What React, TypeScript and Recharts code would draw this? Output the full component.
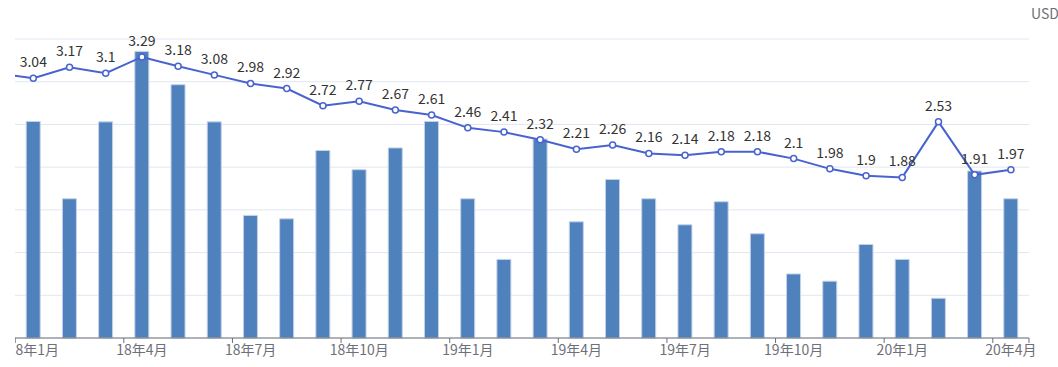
import { Bar, CartesianGrid, ComposedChart, LabelList, Line, XAxis, YAxis } from "recharts";

// 17年12月 sits just left of the visible window (only its line segment shows)
const months = [
  "17年12月",
  "18年1月", "18年2月", "18年3月", "18年4月", "18年5月", "18年6月",
  "18年7月", "18年8月", "18年9月", "18年10月", "18年11月", "18年12月",
  "19年1月", "19年2月", "19年3月", "19年4月", "19年5月", "19年6月",
  "19年7月", "19年8月", "19年9月", "19年10月", "19年11月", "19年12月",
  "20年1月", "20年2月", "20年3月", "20年4月",
];

const volume = [
  null,
  507, 326, 506, 671, 593, 506,
  287, 279, 439, 394, 445, 507,
  326, 184, 466, 272, 371, 326,
  265, 319, 244, 150, 133, 219,
  184, 93, 391, 326,
];

const price = [
  3.1,
  3.04, 3.17, 3.1, 3.29, 3.18, 3.08,
  2.98, 2.92, 2.72, 2.77, 2.67, 2.61,
  2.46, 2.41, 2.32, 2.21, 2.26, 2.16,
  2.14, 2.18, 2.18, 2.1, 1.98, 1.9,
  1.88, 2.53, 1.91, 1.97,
];

const volTicks = [0, 100, 200, 300, 400, 500, 600, 700];

const data = months.map((m, i) => ({ month: m, volume: volume[i], price: price[i] }));

const FONT = "'Noto Sans CJK SC', 'Noto Sans', sans-serif";
const PLOT_W = 1050;
const RIGHT_PAD = 30;
const BW = PLOT_W / months.length;

function MonthTick(props: any) {
  const { x, y, index, payload } = props;
  if ((index - 1) % 3 !== 0) return null;
  const axisY = y - 8;
  const isLast = index === months.length - 1;
  return (
    <g>
      <line x1={x - BW / 2} x2={x - BW / 2} y1={axisY} y2={axisY + 5} stroke="#6e7079" />
      {isLast && <line x1={x + BW / 2} x2={x + BW / 2} y1={axisY} y2={axisY + 5} stroke="#6e7079" />}
      <text x={x} y={y - 1} dy="0.71em" textAnchor="middle" fill="#6e7079" fontSize={14} fontFamily={FONT}>
        {payload.value}
      </text>
    </g>
  );
}

export default function App() {
  return (
    <div style={{ position: "absolute", left: 0, top: 0, width: 1058, height: 367, overflow: "hidden", background: "#fff" }}>
      <div style={{ position: "absolute", left: 15, top: 0, width: 1043, height: 367, overflow: "hidden" }}>
        <div style={{ position: "absolute", left: -BW, top: 0 }}>
          <ComposedChart
            width={PLOT_W + RIGHT_PAD}
            height={367}
            data={data}
            margin={{ top: 39, right: RIGHT_PAD, bottom: 0, left: 0 }}
            style={{ fontFamily: FONT }}
          >
            <CartesianGrid yAxisId="vol" vertical={false} stroke="#e0e6f1" />
            <XAxis
              dataKey="month"
              height={29}
              interval={0}
              tickLine={false}
              axisLine={{ stroke: "#6e7079" }}
              tick={<MonthTick />}
            />
            <YAxis yAxisId="vol" hide domain={[0, 700]} ticks={volTicks} />
            <YAxis yAxisId="price" orientation="right" hide domain={[0, 3.5]} />
            <Bar
              yAxisId="vol"
              dataKey="volume"
              barSize={14}
              fill="#4f81bd"
              stroke="#c4d2e8"
              strokeWidth={1}
              isAnimationActive={false}
            />
            <Line
              yAxisId="price"
              dataKey="price"
              type="linear"
              stroke="#4863cf"
              strokeWidth={2}
              dot={{ r: 3, fill: "#fff", stroke: "#4863cf", strokeWidth: 1.5 }}
              isAnimationActive={false}
            >
              <LabelList dataKey="price" position="top" offset={11} fill="#333" fontSize={14} fontFamily={FONT} />
            </Line>
          </ComposedChart>
        </div>
      </div>
      <div style={{ position: "absolute", left: 1031, top: 6, fontSize: 14, lineHeight: "14px", color: "#6e7079", fontFamily: FONT, whiteSpace: "nowrap" }}>
        USD
      </div>
    </div>
  );
}
